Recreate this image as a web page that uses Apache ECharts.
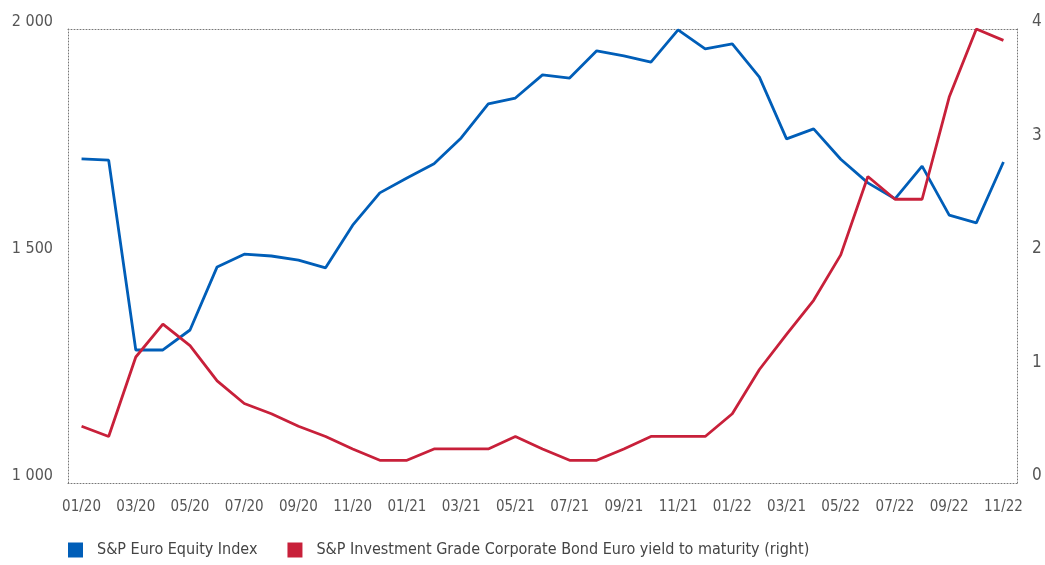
<!DOCTYPE html>
<html><head><meta charset="utf-8">
<script src="https://cdn.jsdelivr.net/npm/echarts@6/dist/echarts.min.js"></script>
<style>html,body{margin:0;padding:0;background:#fff}#c{width:1045px;height:565px}</style>
</head><body><div id="c"></div>
<script>
var categories = ['01/20','02/20','03/20','04/20','05/20','06/20','07/20','08/20','09/20','10/20','11/20','12/20',
'01/21','02/21','03/21','04/21','05/21','06/21','07/21','08/21','09/21','10/21','11/21','12/21',
'01/22','02/22','03/21','04/22','05/22','06/22','07/22','08/22','09/22','10/22','11/22'];
var equityIndex = [1714,1711,1293,1293,1337,1476,1504,1500,1491,1474,1568,1639,
1672,1703,1760,1835,1848,1899,1892,1952,1941,1927,1998,1956,
1967,1894,1758,1780,1713,1661,1626,1698,1590,1573,1707];
var bondYield = [0.50,0.41,1.11,1.40,1.21,0.90,0.70,0.61,0.50,0.41,0.30,0.20,
0.20,0.30,0.30,0.30,0.41,0.30,0.20,0.20,0.30,0.41,0.41,0.41,
0.61,1.00,1.31,1.61,2.01,2.70,2.50,2.50,3.40,4.00,3.90];
var seriesNames = ['S&P Euro Equity Index','S&P Investment Grade Corporate Bond Euro yield to maturity (right)'];

var FONT = '"Liberation Sans Narrow","DejaVu Sans Condensed",sans-serif';
var dotted = {show:true, lineStyle:{color:'#777', type:[1,2], width:1}};
var chart = echarts.init(document.getElementById('c'));
chart.setOption({
  animation:false,
  textStyle:{fontFamily:FONT},
  grid:{left:68, right:28, top:29, bottom:82, containLabel:false},
  legend:{
    left:68, bottom:7, padding:0, icon:'rect', itemWidth:15, itemHeight:15, itemGap:30,
    textStyle:{fontFamily:FONT, fontSize:16, color:'#444', padding:[0,0,0,9]},
    data:seriesNames
  },
  xAxis:[{
    type:'category', data:categories, boundaryGap:true,
    axisLine:dotted, axisTick:{show:false},
    axisLabel:{interval:1, color:'#555', fontSize:15, fontFamily:FONT, margin:17}
  },{
    type:'category', data:categories, position:'top', boundaryGap:true,
    axisLine:dotted, axisTick:{show:false}, axisLabel:{show:false}
  }],
  yAxis:[{
    type:'value', min:1000, max:2000, interval:500,
    axisLine:dotted, axisTick:{show:false}, splitLine:{show:false},
    axisLabel:{color:'#555', fontSize:16, fontFamily:FONT, margin:15, verticalAlign:'bottom', lineHeight:14,
      formatter:function(v){return String(v).replace(/\B(?=(\d{3})+(?!\d))/g,' ');}}
  },{
    type:'value', min:0, max:4, interval:1, position:'right',
    axisLine:dotted, axisTick:{show:false}, splitLine:{show:false},
    axisLabel:{color:'#555', fontSize:17, fontFamily:FONT, margin:15, verticalAlign:'bottom', lineHeight:14}
  }],
  series:[{
    name:seriesNames[0], type:'line', data:equityIndex, yAxisIndex:0,
    symbol:'none', itemStyle:{color:'#005EB8'}, lineStyle:{color:'#005EB8', width:2.8}
  },{
    name:seriesNames[1], type:'line', data:bondYield, yAxisIndex:1,
    symbol:'none', itemStyle:{color:'#C8203A'}, lineStyle:{color:'#C8203A', width:2.8}
  }]
});
</script></body></html>
